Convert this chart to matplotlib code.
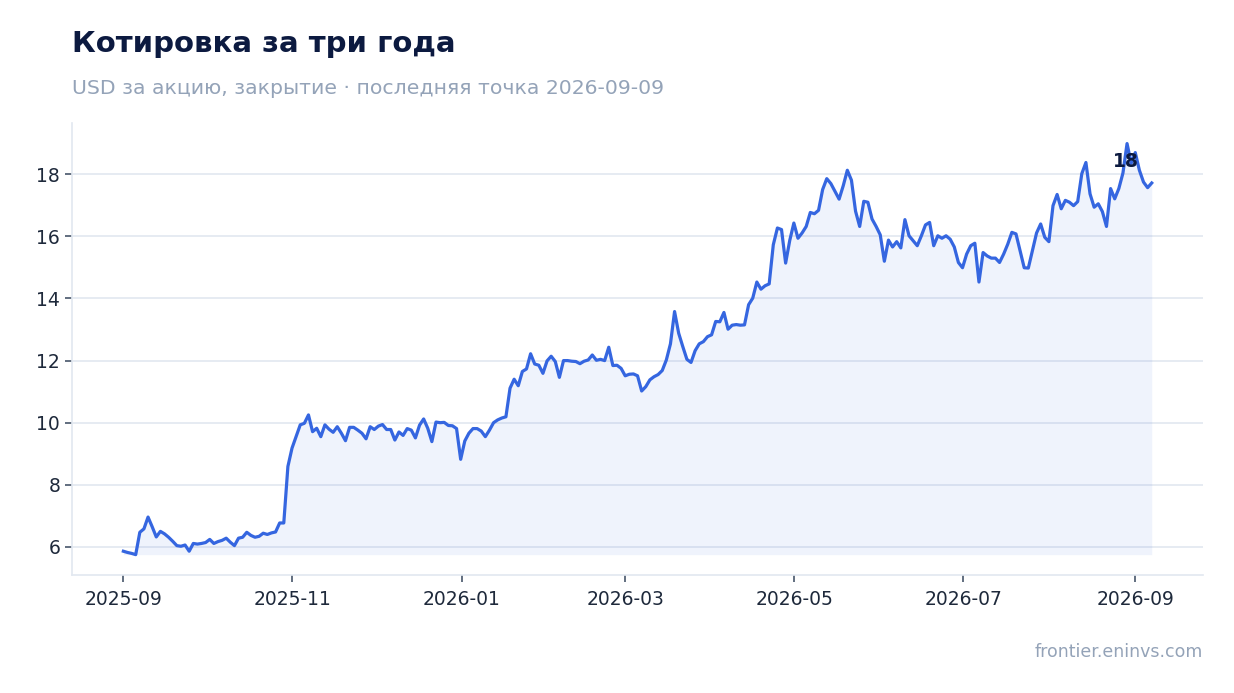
import numpy as np
import pandas as pd
import matplotlib
matplotlib.use("Agg")
import matplotlib.pyplot as plt
import matplotlib.dates as mdates

# closing prices, USD per share
prices = [
    5.86, 5.82, 5.79, 5.75, 6.47, 6.58, 6.96, 6.65, 6.32, 6.50, 6.42, 6.31, 6.18, 6.04, 6.02, 6.06,
    5.86, 6.11, 6.09, 6.11, 6.14, 6.24, 6.11, 6.17, 6.21, 6.28, 6.15, 6.04, 6.28, 6.31, 6.47, 6.37,
    6.31, 6.34, 6.44, 6.40, 6.45, 6.48, 6.77, 6.77, 8.59, 9.18, 9.55, 9.93, 9.98, 10.25, 9.71, 9.82,
    9.55, 9.93, 9.79, 9.69, 9.87, 9.66, 9.42, 9.85, 9.85, 9.76, 9.66, 9.48, 9.87,
    9.78, 9.89, 9.94, 9.78, 9.78, 9.44, 9.70, 9.59, 9.81, 9.76, 9.51, 9.92, 10.12, 9.82, 9.39, 10.02,
    10.00, 10.01, 9.91, 9.90, 9.81, 8.82, 9.41, 9.66, 9.81, 9.81, 9.73, 9.55, 9.76, 10.00, 10.09, 10.15,
    10.19, 11.11, 11.40, 11.19, 11.65, 11.73, 12.22, 11.89, 11.85, 11.59, 11.99, 12.14, 11.97, 11.46,
    12.00, 12.00, 11.98, 11.97, 11.90, 11.98, 12.02, 12.18, 12.01, 12.04, 12.00, 12.43, 11.84, 11.85,
    11.75, 11.51, 11.56,
    11.57, 11.51, 11.02, 11.16, 11.38, 11.48, 11.55, 11.68, 12.02, 12.54, 13.58, 12.88, 12.45, 12.04,
    11.94, 12.32, 12.54, 12.61, 12.77, 12.83, 13.26, 13.25, 13.55, 13.01, 13.14, 13.16, 13.14, 13.15,
    13.80, 14.01, 14.53, 14.30, 14.41, 14.47, 15.73, 16.27, 16.22, 15.14, 15.87, 16.43, 15.94, 16.11,
    16.32, 16.77, 16.73, 16.84, 17.51, 17.86, 17.70, 17.45, 17.20, 17.63, 18.13, 17.81, 16.81, 16.32,
    17.13, 17.10, 16.56, 16.32, 16.05, 15.20,
    15.88, 15.66, 15.83, 15.63, 16.54, 16.02, 15.86, 15.70, 16.02, 16.37, 16.45, 15.70, 16.02, 15.94,
    16.02, 15.91, 15.66, 15.16, 14.99, 15.43, 15.70, 15.78, 14.53, 15.48, 15.37, 15.30, 15.30, 15.16,
    15.43, 15.75, 16.13, 16.08, 15.54, 14.99, 14.98, 15.54, 16.11, 16.40, 15.97, 15.83, 16.99, 17.35,
    16.89, 17.16, 17.10, 16.99, 17.12, 18.02, 18.38, 17.37, 16.94, 17.05, 16.80, 16.32, 17.54, 17.21,
    17.54, 18.04, 18.99, 18.35, 18.70, 18.13, 17.75, 17.57, 17.72,
]
dates = pd.date_range("2025-09-01", "2026-09-07", periods=len(prices))
yticks = [6, 8, 10, 12, 14, 16, 18]

blue = "#3566e0"
navy = "#0c1a40"
muted = "#94a3b8"
light = "#e2e8f0"

fig = plt.figure(figsize=(12.34, 6.93), dpi=100)
ax = fig.add_axes([0.0583, 0.170, 0.9167, 0.6525])

p = np.array(prices)
ax.fill_between(dates, p, p.min(), color=blue, alpha=0.08, linewidth=0)
ax.plot(dates, p, color=blue, linewidth=2.3, solid_joinstyle="round")

imax = int(np.argmax(p))
ax.annotate(f"{int(p[imax])}", (dates[imax], p[imax]), xytext=(-1, -13),
            textcoords="offset points", ha="center", va="center",
            fontsize=13.5, fontweight="bold", color=navy)

ax.set_yticks(yticks)
ax.xaxis.set_major_locator(mdates.MonthLocator(bymonth=[1, 3, 5, 7, 9, 11]))
ax.xaxis.set_major_formatter(mdates.DateFormatter("%Y-%m"))
ax.grid(axis="y", color=light, linewidth=1.2)
ax.set_axisbelow(True)
for s in ["top", "right"]:
    ax.spines[s].set_visible(False)
for s in ["left", "bottom"]:
    ax.spines[s].set_color(light)
    ax.spines[s].set_linewidth(1.2)
ax.tick_params(axis="both", labelsize=13.5, labelcolor="#1e293b", color="#475569",
               length=5, width=1.2)
ax.tick_params(axis="x", pad=6)

fig.text(0.0583, 0.937, "Котировка за три года", fontsize=21, fontweight="bold",
         color=navy, va="center", ha="left")
fig.text(0.0583, 0.873, "USD за акцию, закрытие · последняя точка 2026-09-09",
         fontsize=14.7, color=muted, va="center", ha="left")
fig.text(0.975, 0.059, "frontier.eninvs.com", fontsize=12.5, color=muted,
         va="center", ha="right")

fig.savefig("out.png", dpi=100)
